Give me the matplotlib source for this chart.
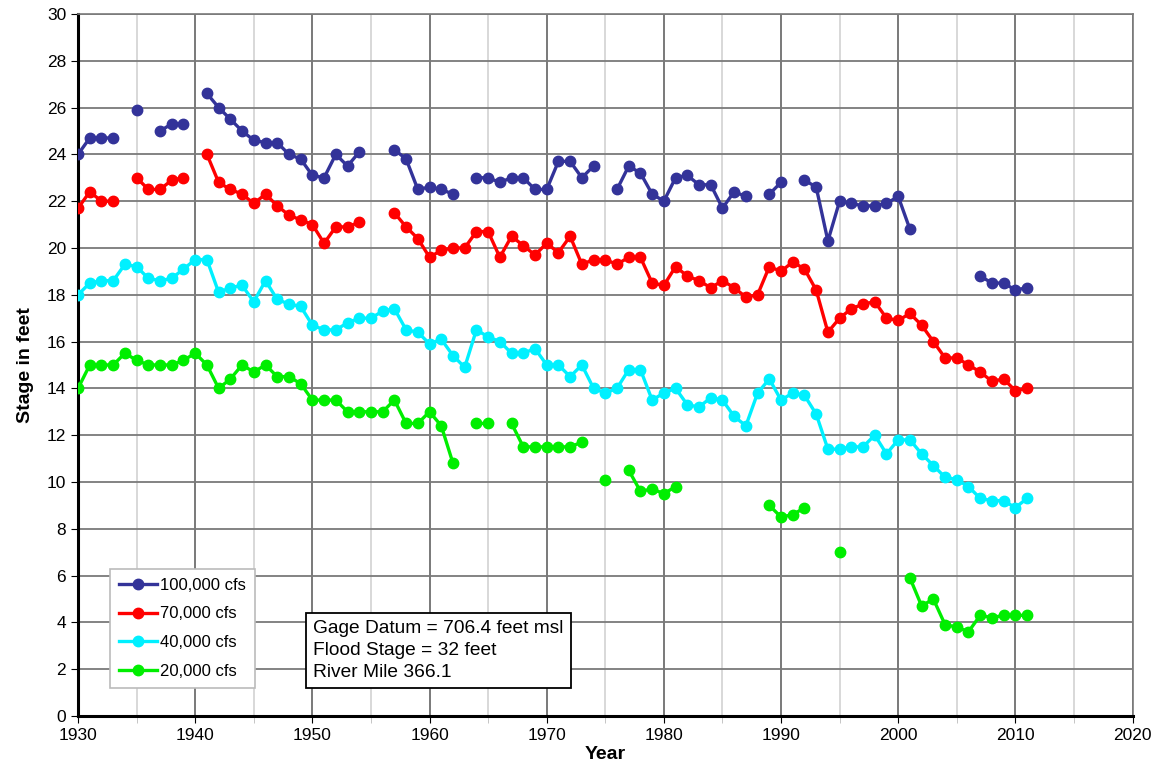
import numpy as np
import matplotlib
matplotlib.use("Agg")
import matplotlib.pyplot as plt
from matplotlib.ticker import MultipleLocator

plt.rcParams['font.family'] = ['Liberation Sans', 'DejaVu Sans']

nan = np.nan
years = list(range(1930, 2012))

# stage in feet for each flow, one value per year (nan = no reading)
stage_100k = [24.0, 24.7, 24.7, 24.7, nan, 25.9, nan, 25.0, 25.3, 25.3,
              nan, 26.6, 26.0, 25.5, 25.0, 24.6, 24.5, 24.5, 24.0, 23.8,
              23.1, 23.0, 24.0, 23.5, 24.1, nan, nan, 24.2, 23.8, 22.5,
              22.6, 22.5, 22.3, nan, 23.0, 23.0, 22.8, 23.0, 23.0, 22.5,
              22.5, 23.7, 23.7, 23.0, 23.5, nan, 22.5, 23.5, 23.2, 22.3,
              22.0, 23.0, 23.1, 22.7, 22.7, 21.7, 22.4, 22.2, nan, 22.3,
              22.8, nan, 22.9, 22.6, 20.3, 22.0, 21.9, 21.8, 21.8, 21.9,
              22.2, 20.8, nan, nan, nan, nan, nan, 18.8, 18.5, 18.5,
              18.2, 18.3]
stage_70k = [21.7, 22.4, 22.0, 22.0, nan, 23.0, 22.5, 22.5, 22.9, 23.0,
             nan, 24.0, 22.8, 22.5, 22.3, 21.9, 22.3, 21.8, 21.4, 21.2,
             21.0, 20.2, 20.9, 20.9, 21.1, nan, nan, 21.5, 20.9, 20.4,
             19.6, 19.9, 20.0, 20.0, 20.7, 20.7, 19.6, 20.5, 20.1, 19.7,
             20.2, 19.8, 20.5, 19.3, 19.5, 19.5, 19.3, 19.6, 19.6, 18.5,
             18.4, 19.2, 18.8, 18.6, 18.3, 18.6, 18.3, 17.9, 18.0, 19.2,
             19.0, 19.4, 19.1, 18.2, 16.4, 17.0, 17.4, 17.6, 17.7, 17.0,
             16.9, 17.2, 16.7, 16.0, 15.3, 15.3, 15.0, 14.7, 14.3, 14.4,
             13.9, 14.0]
stage_40k = [18.0, 18.5, 18.6, 18.6, 19.3, 19.2, 18.7, 18.6, 18.7, 19.1,
             19.5, 19.5, 18.1, 18.3, 18.4, 17.7, 18.6, 17.8, 17.6, 17.5,
             16.7, 16.5, 16.5, 16.8, 17.0, 17.0, 17.3, 17.4, 16.5, 16.4,
             15.9, 16.1, 15.4, 14.9, 16.5, 16.2, 16.0, 15.5, 15.5, 15.7,
             15.0, 15.0, 14.5, 15.0, 14.0, 13.8, 14.0, 14.8, 14.8, 13.5,
             13.8, 14.0, 13.3, 13.2, 13.6, 13.5, 12.8, 12.4, 13.8, 14.4,
             13.5, 13.8, 13.7, 12.9, 11.4, 11.4, 11.5, 11.5, 12.0, 11.2,
             11.8, 11.8, 11.2, 10.7, 10.2, 10.1, 9.8, 9.3, 9.2, 9.2,
             8.9, 9.3]
stage_20k = [14.0, 15.0, 15.0, 15.0, 15.5, 15.2, 15.0, 15.0, 15.0, 15.2,
             15.5, 15.0, 14.0, 14.4, 15.0, 14.7, 15.0, 14.5, 14.5, 14.2,
             13.5, 13.5, 13.5, 13.0, 13.0, 13.0, 13.0, 13.5, 12.5, 12.5,
             13.0, 12.4, 10.8, nan, 12.5, 12.5, nan, 12.5, 11.5, 11.5,
             11.5, 11.5, 11.5, 11.7, nan, 10.1, nan, 10.5, 9.6, 9.7,
             9.5, 9.8, nan, nan, nan, nan, nan, nan, nan, 9.0,
             8.5, 8.6, 8.9, nan, nan, 7.0, nan, nan, nan, nan,
             nan, 5.9, 4.7, 5.0, 3.9, 3.8, 3.6, 4.3, 4.2, 4.3,
             4.3, 4.3]

series = [("100,000 cfs", stage_100k, "#333399"),
          ("70,000 cfs", stage_70k, "#ff0000"),
          ("40,000 cfs", stage_40k, "#00f0ff"),
          ("20,000 cfs", stage_20k, "#00ee00")]

fig = plt.figure(figsize=(11.58, 7.74), dpi=100)
ax = fig.add_axes([0.0674, 0.075, 0.9106, 0.907])

for label, vals, col in series:
    ax.plot(years, vals, color=col, lw=2.4, marker='o', ms=7.5,
            label=label, zorder=3)

ax.set_xlim(1930, 2020)
ax.set_ylim(0, 30)
ax.xaxis.set_major_locator(MultipleLocator(10))
ax.xaxis.set_minor_locator(MultipleLocator(5))
ax.yaxis.set_major_locator(MultipleLocator(2))

# grid
ax.grid(which='major', axis='y', color='#7a7a7a', lw=1.3)
ax.grid(which='major', axis='x', color='#555555', lw=1.1)
ax.grid(which='minor', axis='x', color='#d6d6d6', lw=1.3)
ax.set_axisbelow(True)

for s in ['left', 'bottom']:
    ax.spines[s].set_linewidth(2.2)
    ax.spines[s].set_color('black')
for s in ['top', 'right']:
    ax.spines[s].set_color('#7a7a7a')
    ax.spines[s].set_linewidth(1.2)

ax.tick_params(axis='both', which='major', labelsize=12.5, length=5)
ax.tick_params(axis='x', which='minor', length=5, color='#bbbbbb')

ax.set_xlabel("Year", fontsize=14, fontweight='bold', labelpad=2)
ax.set_ylabel("Stage in feet", fontsize=14, fontweight='bold', labelpad=9)

leg = ax.legend(loc='lower left', bbox_to_anchor=(0.03, 0.04),
                fontsize=12, frameon=True, fancybox=False,
                handlelength=2.3, borderpad=0.55, labelspacing=0.82,
                handletextpad=0.15, borderaxespad=0)
leg.get_frame().set_edgecolor('#bbbbbb')
leg.get_frame().set_linewidth(1.2)
leg.get_frame().set_alpha(1)

ax.text(0.223, 0.05, "Gage Datum = 706.4 feet msl\nFlood Stage = 32 feet\nRiver Mile 366.1",
        transform=ax.transAxes, fontsize=13.8, linespacing=1.38,
        ha='left', va='bottom', zorder=5,
        bbox=dict(boxstyle='square,pad=0.38', fc='white', ec='black', lw=1.3))

fig.savefig("out.png", dpi=100)
